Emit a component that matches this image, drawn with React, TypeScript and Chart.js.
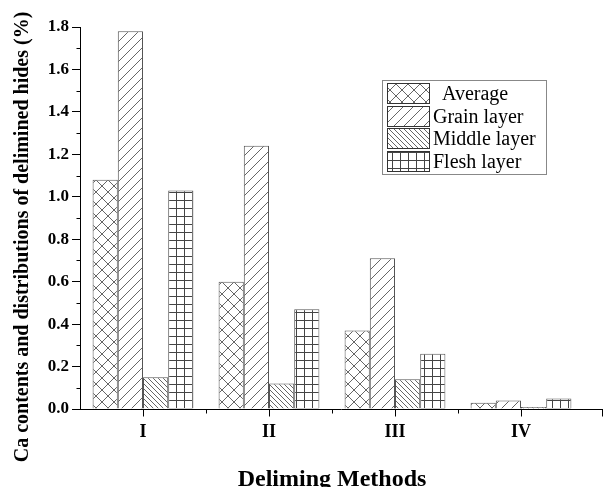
import React, { useEffect, useRef } from "react";
import { Chart, registerables } from "chart.js";

Chart.register(...registerables);

const categories = ["I", "II", "III", "IV"];
const seriesNames = ["Average", "Grain layer", "Middle layer", "Flesh layer"];
const averageValues = [1.08, 0.6, 0.37, 0.03];
const grainValues = [1.78, 1.24, 0.71, 0.04];
const middleValues = [0.15, 0.12, 0.14, 0.01];
const fleshValues = [1.03, 0.47, 0.26, 0.05];
const yMinorTicks = [0.1, 0.3, 0.5, 0.7, 0.9, 1.1, 1.3, 1.5, 1.7];

const SERIF = "'Liberation Serif', 'Times New Roman', serif";

function makePattern(kind: string): CanvasPattern | string {
  const c = document.createElement("canvas");
  let s = 10;
  if (kind === "cross") s = 12;
  if (kind === "fwd") s = 10;
  if (kind === "back") s = 5;
  if (kind === "grid") s = 8;
  c.width = s;
  c.height = s;
  const g = c.getContext("2d");
  if (!g) return "#fff";
  g.fillStyle = "#ffffff";
  g.fillRect(0, 0, s, s);
  g.lineWidth = 1;
  if (kind === "cross") {
    g.strokeStyle = "#666";
    g.beginPath();
    g.moveTo(0, 0);
    g.lineTo(s, s);
    g.moveTo(0, s);
    g.lineTo(s, 0);
    g.stroke();
  } else if (kind === "fwd") {
    g.strokeStyle = "#666";
    g.beginPath();
    g.moveTo(-1, s + 1);
    g.lineTo(s + 1, -1);
    g.stroke();
  } else if (kind === "back") {
    g.strokeStyle = "#666";
    g.beginPath();
    g.moveTo(-1, -1);
    g.lineTo(s + 1, s + 1);
    g.stroke();
  } else if (kind === "grid") {
    g.strokeStyle = "#444";
    g.beginPath();
    g.moveTo(0.5, 0);
    g.lineTo(0.5, s);
    g.moveTo(0, 0.5);
    g.lineTo(s, 0.5);
    g.stroke();
  }
  const ctx = document.createElement("canvas").getContext("2d");
  const p = ctx ? ctx.createPattern(c, "repeat") : null;
  return p || "#fff";
}

export default function App() {
  const ref = useRef<HTMLCanvasElement | null>(null);

  useEffect(() => {
    if (!ref.current) return;
    const patterns = [
      makePattern("cross"),
      makePattern("fwd"),
      makePattern("back"),
      makePattern("grid"),
    ];
    const values = [averageValues, grainValues, middleValues, fleshValues];

    const decor = {
      id: "decor",
      afterDraw(chart: any) {
        const ctx = chart.ctx;
        const area = chart.chartArea;
        const xs = chart.scales.x;
        const ys = chart.scales.y;
        ctx.save();
        ctx.strokeStyle = "#000";
        ctx.lineWidth = 1;
        // x axis line
        const yb = Math.round(area.bottom) + 0.5;
        ctx.beginPath();
        ctx.moveTo(area.left, yb);
        ctx.lineTo(603, yb);
        ctx.stroke();
        // end tick
        ctx.beginPath();
        ctx.moveTo(602.5, yb);
        ctx.lineTo(602.5, yb + 7);
        ctx.stroke();
        // x major ticks at category centres
        for (let i = 0; i < categories.length; i++) {
          const xp = Math.round(xs.getPixelForValue(i)) + 0.5;
          ctx.beginPath();
          ctx.moveTo(xp, yb);
          ctx.lineTo(xp, yb + 7);
          ctx.stroke();
        }
        // x minor ticks at category boundaries
        for (let i = 0; i < categories.length - 1; i++) {
          const xp = Math.round((xs.getPixelForValue(i) + xs.getPixelForValue(i + 1)) / 2) + 0.5;
          ctx.beginPath();
          ctx.moveTo(xp, yb);
          ctx.lineTo(xp, yb + 4);
          ctx.stroke();
        }
        // y minor ticks
        const xl = Math.round(area.left) + 0.5;
        for (const v of yMinorTicks) {
          const yp = Math.round(ys.getPixelForValue(v)) + 0.5;
          ctx.beginPath();
          ctx.moveTo(xl - 4, yp);
          ctx.lineTo(xl, yp);
          ctx.stroke();
        }
        // axis titles
        ctx.fillStyle = "#000";
        ctx.font = `bold 24px ${SERIF}`;
        ctx.textAlign = "center";
        ctx.textBaseline = "alphabetic";
        ctx.fillText("Deliming Methods", (area.left + area.right) / 2, 486);
        ctx.save();
        ctx.translate(28, 237);
        ctx.rotate(-Math.PI / 2);
        ctx.font = `bold 20px ${SERIF}`;
        ctx.fillText("Ca contents and distributions of delimined hides (%)", 0, 0);
        ctx.restore();
        // legend
        const bx = 382.5, by = 80.5, bw = 164, bh = 94;
        ctx.strokeStyle = "#888";
        ctx.strokeRect(bx, by, bw, bh);
        ctx.font = `20px ${SERIF}`;
        ctx.textAlign = "left";
        ctx.textBaseline = "middle";
        for (let i = 0; i < seriesNames.length; i++) {
          const sy = 83 + i * 22.7;
          const r = Math.round(sy) + 0.5;
          ctx.fillStyle = patterns[i] as any;
          ctx.fillRect(387.5, r, 42, 20);
          ctx.strokeStyle = "#333";
          ctx.strokeRect(387.5, r, 42, 20);
          ctx.fillStyle = "#000";
          const tx = i === 0 ? 442 : 433;
          ctx.fillText(seriesNames[i], tx, r + 11);
        }
        ctx.restore();
      },
    };

    const chart = new Chart(ref.current, {
      type: "bar",
      data: {
        labels: categories,
        datasets: seriesNames.map((name, i) => ({
          label: name,
          data: values[i],
          backgroundColor: patterns[i] as any,
          borderColor: "#555",
          borderWidth: 1,
          barPercentage: 1,
          categoryPercentage: 0.8,
        })),
      },
      options: {
        responsive: false,
        animation: false,
        layout: { padding: { left: 0, right: 20, top: 27, bottom: 0 } },
        plugins: {
          legend: { display: false },
          tooltip: { enabled: false },
          title: { display: false },
        },
        scales: {
          x: {
            type: "category",
            grid: {
              display: true,
              drawOnChartArea: false,
              drawTicks: true,
              tickLength: 7,
              color: "rgba(0,0,0,0)",
            },
            border: { display: false },
            ticks: {
              color: "#000",
              padding: 6,
              font: { family: SERIF, size: 18, weight: "bold" },
            },
            afterFit(scale: any) {
              scale.height = 78;
            },
          },
          y: {
            min: 0,
            max: 1.8,
            grid: {
              display: true,
              drawOnChartArea: false,
              drawTicks: true,
              tickLength: 8,
              color: "#000",
            },
            border: { display: true, color: "#000", width: 1 },
            ticks: {
              stepSize: 0.2,
              color: "#000",
              padding: 3,
              font: { family: SERIF, size: 17, weight: "bold" },
              callback: (v: any) => Number(v).toFixed(1),
            },
            afterFit(scale: any) {
              scale.width = 80;
            },
          },
        },
      },
      plugins: [decor],
    });
    return () => chart.destroy();
  }, []);

  return (
    <div style={{ position: "absolute", left: 0, top: 0, width: 604, height: 487, background: "#fff" }}>
      <canvas ref={ref} width={604} height={487} style={{ display: "block" }} />
    </div>
  );
}
